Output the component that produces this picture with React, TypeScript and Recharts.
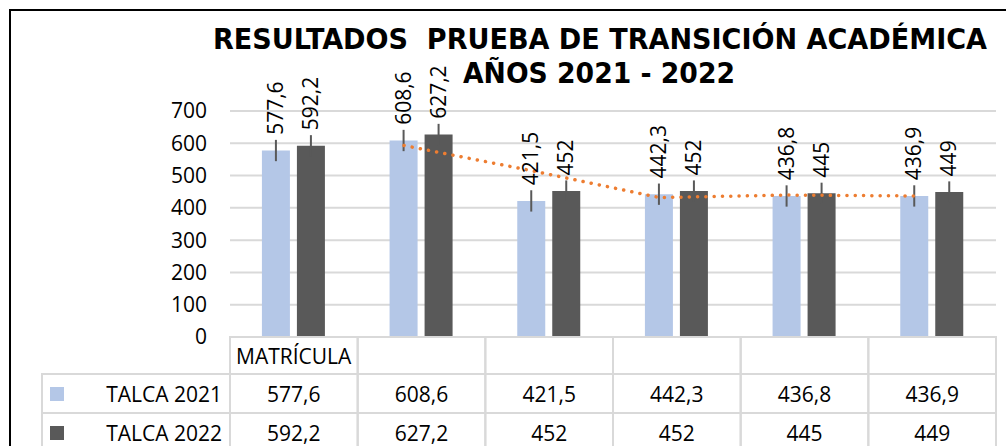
import React from "react";
import {
  ComposedChart,
  Bar,
  Line,
  XAxis,
  YAxis,
  CartesianGrid,
  ErrorBar,
  LabelList,
} from "recharts";

const categories = ["MATRÍCULA", "", "", "", "", ""];
const talca2021 = [577.6, 608.6, 421.5, 442.3, 436.8, 436.9];
const talca2022 = [592.2, 627.2, 452, 452, 445, 449];
const error2021 = [33, 33, 33, 33, 33, 33];
const error2022 = [33, 33, 33, 33, 33, 33];
// dotted orange line (2-period moving average of TALCA 2021)
const trend2021 = [null, 593.1, 515.1, 431.9, 439.6, 436.9];
const yTicks = [0, 100, 200, 300, 400, 500, 600, 700];
const seriesNames = ["TALCA 2021", "TALCA 2022"];
const titleLines = ["RESULTADOS  PRUEBA DE TRANSICIÓN ACADÉMICA", "AÑOS 2021 - 2022"];

const W = 1006;
const H = 446;
const PLOT_LEFT = 230;
const PLOT_RIGHT = 996;
const PLOT_TOP = 111;
const PLOT_BOTTOM = 337;
const Y_AXIS_W = 60;
const BAND = (PLOT_RIGHT - PLOT_LEFT) / categories.length;
const BAR_GAP = 7;
const CAT_GAP = 0.25;

// centre of the first bar inside its band, same maths recharts uses
const barW = Math.floor((BAND * (1 - 2 * CAT_GAP) - BAR_GAP) / 2);
const barOffset = (BAND - (2 * barW + BAR_GAP)) / 2;
const TREND_X = (barOffset + barW / 2) / BAND;

const BLUE = "#B4C7E7";
const DARK = "#595959";
const ORANGE = "#ED7D31";
const GRID = "#D9D9D9";
const FONT = "'Open Sans', sans-serif";

const rowTops = [PLOT_BOTTOM, 374, 413, 452];
const seriesValues = [talca2021, talca2022];
const seriesColors = [BLUE, DARK];

const data = categories.map((c, i) => ({
  cat: c,
  v21: talca2021[i],
  v22: talca2022[i],
  e21: error2021[i],
  e22: error2022[i],
  trend: trend2021[i],
  tx: i + TREND_X,
}));

const fmt = (v: number) => String(v).replace(".", ",");

function makeLabel(errors: number[]) {
  return (props: any) => {
    const { x, y, width, height, value, index } = props;
    if (value == null) return null;
    const errPx = (height * errors[index]) / value;
    const cx = x + width / 2 + 7;
    const cy = y - errPx - 5;
    return (
      <text
        x={cx}
        y={cy}
        transform={`rotate(-90 ${cx} ${cy})`}
        fontFamily={FONT}
        fontSize={21}
        fill="#000"
        textAnchor="start"
      >
        {fmt(value)}
      </text>
    );
  };
}

function TableColumn(props: any) {
  const { x, index } = props;
  const left = x - BAND / 2;
  const cells = [];
  cells.push(
    <rect
      key="h"
      x={left}
      y={rowTops[0]}
      width={BAND}
      height={rowTops[1] - rowTops[0]}
      fill="none"
      stroke={GRID}
      strokeWidth={2}
    />
  );
  if (categories[index]) {
    cells.push(
      <text key="ht" x={left + 6} y={364} fontFamily={FONT} fontSize={21} fill="#000">
        {categories[index]}
      </text>
    );
  }
  seriesValues.forEach((vals, s) => {
    cells.push(
      <rect
        key={"r" + s}
        x={left}
        y={rowTops[s + 1]}
        width={BAND}
        height={rowTops[s + 2] - rowTops[s + 1]}
        fill="none"
        stroke={GRID}
        strokeWidth={2}
      />
    );
    cells.push(
      <text
        key={"t" + s}
        x={x}
        y={rowTops[s + 1] + 28}
        fontFamily={FONT}
        fontSize={21}
        fill="#000"
        textAnchor="middle"
      >
        {fmt(vals[index])}
      </text>
    );
  });
  if (index === 0) {
    seriesNames.forEach((name, s) => {
      const top = rowTops[s + 1];
      cells.push(
        <g key={"l" + s}>
          <rect
            x={42}
            y={top}
            width={left - 42}
            height={rowTops[s + 2] - top}
            fill="none"
            stroke={GRID}
            strokeWidth={2}
          />
          <rect x={50} y={top + 13} width={14} height={14} fill={seriesColors[s]} />
          <text
            x={222}
            y={top + 28}
            fontFamily={FONT}
            fontSize={21}
            fill="#000"
            textAnchor="end"
          >
            {name}
          </text>
        </g>
      );
    });
  }
  return <g>{cells}</g>;
}

export default function App() {
  return (
    <div style={{ position: "absolute", left: 0, top: 0, width: W, height: H, background: "#fff" }}>
      <ComposedChart
        width={W}
        height={H}
        data={data}
        margin={{ top: PLOT_TOP, right: W - PLOT_RIGHT, bottom: 0, left: PLOT_LEFT - Y_AXIS_W }}
        barGap={BAR_GAP}
        barCategoryGap={`${CAT_GAP * 100}%`}
      >
        <CartesianGrid vertical={false} stroke={GRID} strokeWidth={2} />
        <XAxis
          dataKey="cat"
          height={H - PLOT_BOTTOM}
          tickLine={false}
          axisLine={false}
          tickSize={0}
          tickMargin={0}
          interval={0}
          tick={(p: any) => <TableColumn {...p} />}
        />
        <XAxis xAxisId="t" dataKey="tx" type="number" domain={[0, categories.length]} hide />
        <YAxis
          width={Y_AXIS_W}
          domain={[0, 700]}
          ticks={yTicks}
          tickLine={false}
          axisLine={false}
          tickSize={0}
          tickMargin={23}
          tick={{ fontFamily: FONT, fontSize: 21, fill: "#000" }}
        />
        <Bar dataKey="v21" name={seriesNames[0]} fill={BLUE} isAnimationActive={false}>
          <ErrorBar dataKey="e21" width={0} stroke={DARK} strokeWidth={2} />
          <LabelList dataKey="v21" content={makeLabel(error2021)} />
        </Bar>
        <Bar dataKey="v22" name={seriesNames[1]} fill={DARK} isAnimationActive={false}>
          <ErrorBar dataKey="e22" width={0} stroke={DARK} strokeWidth={2} />
          <LabelList dataKey="v22" content={makeLabel(error2022)} />
        </Bar>
        <Line
          xAxisId="t"
          dataKey="trend"
          type="linear"
          stroke={ORANGE}
          strokeWidth={3.5}
          strokeDasharray="0.1 8.2"
          strokeLinecap="round"
          dot={false}
          activeDot={false}
          isAnimationActive={false}
        />
      </ComposedChart>
      <svg
        width={W}
        height={H}
        style={{ position: "absolute", left: 0, top: 0, pointerEvents: "none" }}
      >
        <line x1={9} y1={10} x2={W} y2={10} stroke="#000" strokeWidth={2} />
        <line x1={10} y1={9} x2={10} y2={H} stroke="#000" strokeWidth={2} />
        <text
          x={600}
          y={49}
          textAnchor="middle"
          fontFamily="'DejaVu Sans Condensed', 'DejaVu Sans', sans-serif"
          fontWeight="bold"
          fontSize={29}
          textLength={774}
          lengthAdjust="spacingAndGlyphs"
          style={{ whiteSpace: "pre" }}
        >
          {titleLines[0]}
        </text>
        <text
          x={599}
          y={83}
          textAnchor="middle"
          fontFamily="'DejaVu Sans Condensed', 'DejaVu Sans', sans-serif"
          fontWeight="bold"
          fontSize={29}
          textLength={272}
          lengthAdjust="spacingAndGlyphs"
        >
          {titleLines[1]}
        </text>
      </svg>
    </div>
  );
}
